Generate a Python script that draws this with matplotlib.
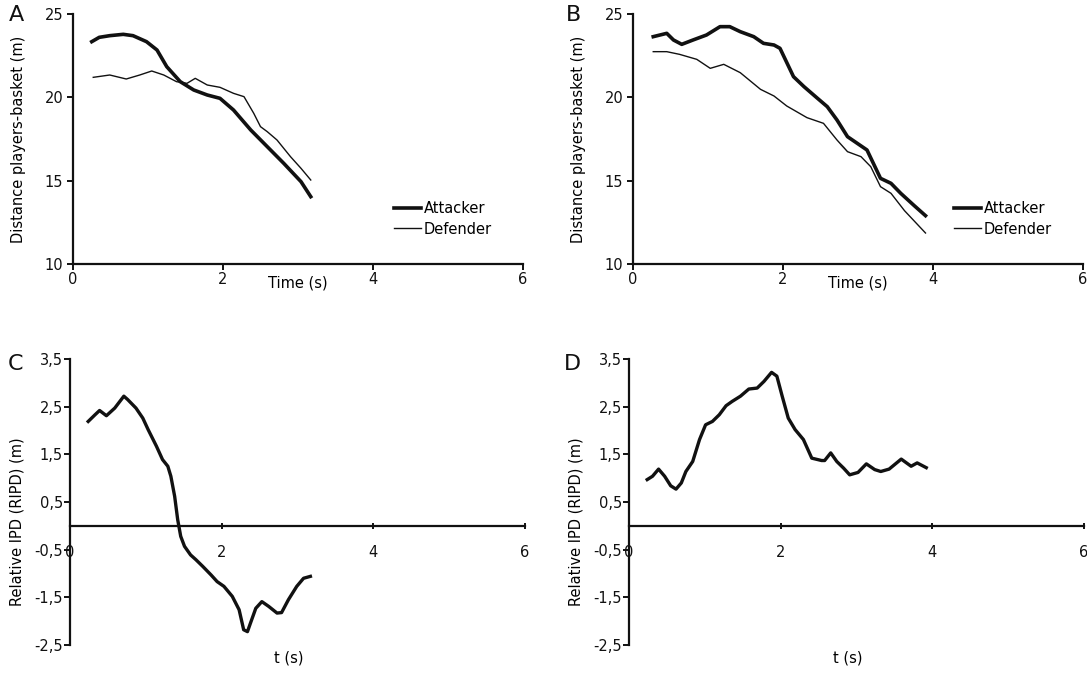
import numpy as np
import matplotlib
matplotlib.use('Agg')
import matplotlib.pyplot as plt

# Panel A - distance to basket
tA_att = [0.25, 0.35, 0.49, 0.67, 0.80, 0.98, 1.12, 1.25, 1.43, 1.61, 1.79, 1.96, 2.14, 2.37, 2.59, 2.81, 3.04, 3.17]
dA_att = [23.34, 23.6, 23.7, 23.78, 23.7, 23.34, 22.84, 21.84, 20.94, 20.44, 20.14, 19.94, 19.24, 18.04, 17.04, 16.04, 14.94, 14.04]
tA_def = [0.27, 0.49, 0.71, 0.89, 1.05, 1.21, 1.38, 1.52, 1.63, 1.79, 1.96, 2.14, 2.28, 2.41, 2.50, 2.59, 2.72, 2.90, 3.04, 3.17]
dA_def = [21.2, 21.34, 21.1, 21.34, 21.58, 21.34, 20.94, 20.84, 21.14, 20.74, 20.6, 20.24, 20.04, 19.04, 18.24, 17.94, 17.44, 16.44, 15.74, 15.04]

# Panel B
tB_att = [0.27, 0.45, 0.54, 0.65, 0.80, 0.98, 1.16, 1.29, 1.43, 1.61, 1.74, 1.88, 1.96, 2.14, 2.28, 2.46, 2.59, 2.72, 2.86, 2.99, 3.12, 3.30, 3.44, 3.57, 3.75, 3.90]
dB_att = [23.64, 23.84, 23.44, 23.18, 23.44, 23.74, 24.24, 24.24, 23.94, 23.64, 23.24, 23.14, 22.94, 21.24, 20.64, 19.94, 19.44, 18.64, 17.64, 17.24, 16.84, 15.14, 14.84, 14.24, 13.5, 12.9]
tB_def = [0.27, 0.45, 0.62, 0.85, 1.03, 1.21, 1.43, 1.70, 1.88, 2.05, 2.32, 2.54, 2.72, 2.86, 3.04, 3.17, 3.30, 3.44, 3.62, 3.90]
dB_def = [22.74, 22.74, 22.58, 22.28, 21.74, 21.98, 21.48, 20.48, 20.08, 19.48, 18.78, 18.44, 17.44, 16.74, 16.44, 15.84, 14.64, 14.24, 13.2, 11.86]

# Panel C - relative IPD
tC = [0.24, 0.33, 0.39, 0.48, 0.59, 0.71, 0.76, 0.87, 0.96, 1.03, 1.14, 1.22, 1.29, 1.33, 1.38, 1.42, 1.46, 1.51, 1.59,
      1.66, 1.75, 1.86, 1.94, 2.03, 2.14, 2.23, 2.29, 2.34, 2.38, 2.45, 2.53, 2.62, 2.73, 2.79, 2.88, 2.99, 3.08, 3.17]
rC = [2.19, 2.33, 2.42, 2.31, 2.47, 2.72, 2.65, 2.47, 2.26, 2.02, 1.67, 1.39, 1.25, 1.04, 0.62, 0.13, -0.22, -0.43, -0.61,
      -0.71, -0.85, -1.03, -1.17, -1.27, -1.48, -1.76, -2.18, -2.22, -2.04, -1.73, -1.59, -1.69, -1.83, -1.82, -1.55, -1.27, -1.10, -1.06]

# Panel D
tD = [0.24, 0.31, 0.39, 0.47, 0.55, 0.62, 0.69, 0.75, 0.84, 0.93, 1.01, 1.10, 1.19, 1.28, 1.36, 1.47, 1.58, 1.69, 1.78,
      1.88, 1.95, 2.02, 2.10, 2.19, 2.30, 2.41, 2.54, 2.58, 2.66, 2.74, 2.83, 2.91, 3.02, 3.13, 3.24, 3.32, 3.43, 3.59, 3.72, 3.80, 3.92]
rD = [0.97, 1.04, 1.19, 1.04, 0.84, 0.77, 0.90, 1.14, 1.35, 1.81, 2.12, 2.19, 2.33, 2.52, 2.61, 2.72, 2.87, 2.89, 3.03,
      3.22, 3.14, 2.72, 2.26, 2.02, 1.81, 1.42, 1.37, 1.37, 1.53, 1.35, 1.21, 1.07, 1.12, 1.30, 1.18, 1.14, 1.19, 1.40, 1.25, 1.32, 1.22]

xticks = [0, 2, 4, 6]
top_yticks = [10, 15, 20, 25]
bot_yticks = [-2.5, -1.5, -0.5, 0.5, 1.5, 2.5, 3.5]
bot_ylabels = ['-2,5', '-1,5', '-0,5', '0,5', '1,5', '2,5', '3,5']

W, H = 1087, 677
fig = plt.figure(figsize=(W / 100, H / 100), dpi=100)

def px_axes(l, t, r, b):
    return fig.add_axes([l / W, 1 - b / H, (r - l) / W, (b - t) / H])

axA = px_axes(73, 14, 523, 264)
axB = px_axes(633, 14, 1083, 264)
axC = px_axes(70, 359, 525, 645)
axD = px_axes(629, 359, 1084, 645)

lc = '#111111'

def style(ax):
    for s in ['top', 'right']:
        ax.spines[s].set_visible(False)
    for s in ['left', 'bottom']:
        ax.spines[s].set_color(lc)
        ax.spines[s].set_linewidth(1.6)
    ax.set_xlim(0, 6)
    ax.set_xticks(xticks)
    ax.set_xticklabels([str(v) for v in xticks])
    ax.tick_params(colors=lc, labelsize=10.5, width=1.4, length=4)

for ax, ta, da, td, dd in [(axA, tA_att, dA_att, tA_def, dA_def), (axB, tB_att, dB_att, tB_def, dB_def)]:
    style(ax)
    ax.plot(ta, da, color=lc, lw=2.6, label='Attacker')
    ax.plot(td, dd, color=lc, lw=1.0, label='Defender')
    ax.set_ylim(10, 25)
    ax.set_yticks(top_yticks)
    ax.tick_params(axis='x', pad=2)
    ax.tick_params(axis='y', pad=3)
    ax.set_ylabel('Distance players-basket (m)', fontsize=10.5)
    ax.yaxis.set_label_coords(-0.104, 0.5)
    ax.set_xlabel('Time (s)', fontsize=10.5)
    ax.xaxis.set_label_coords(0.5, -0.046)
    ax.legend(loc='center left', bbox_to_anchor=(0.685, 0.18), frameon=False,
              handlelength=1.8, handletextpad=0.2, labelspacing=0.35, fontsize=10.5)

for ax, t, r in [(axC, tC, rC), (axD, tD, rD)]:
    style(ax)
    ax.plot(t, r, color=lc, lw=2.4)
    ax.set_ylim(-2.5, 3.5)
    ax.spines['bottom'].set_position(('data', 0))
    ax.set_yticks(bot_yticks)
    ax.set_yticklabels(bot_ylabels)
    ax.tick_params(axis='x', pad=12, direction='inout')
    ax.tick_params(axis='y', pad=1)
    ax.set_ylabel('Relative IPD (RIPD) (m)', fontsize=10.5)
    ax.yaxis.set_label_coords(-0.1, 0.43)
    ax.set_xlabel('t (s)', fontsize=10.5)
    ax.xaxis.set_label_coords(0.48, -0.02)

for letter, x, y in [('A', 9, 5), ('B', 566, 5), ('C', 8, 354), ('D', 564, 354)]:
    fig.text(x / W, 1 - y / H, letter, fontsize=16, va='top', ha='left', color=lc)

fig.savefig('out.png', dpi=100, facecolor='white')
